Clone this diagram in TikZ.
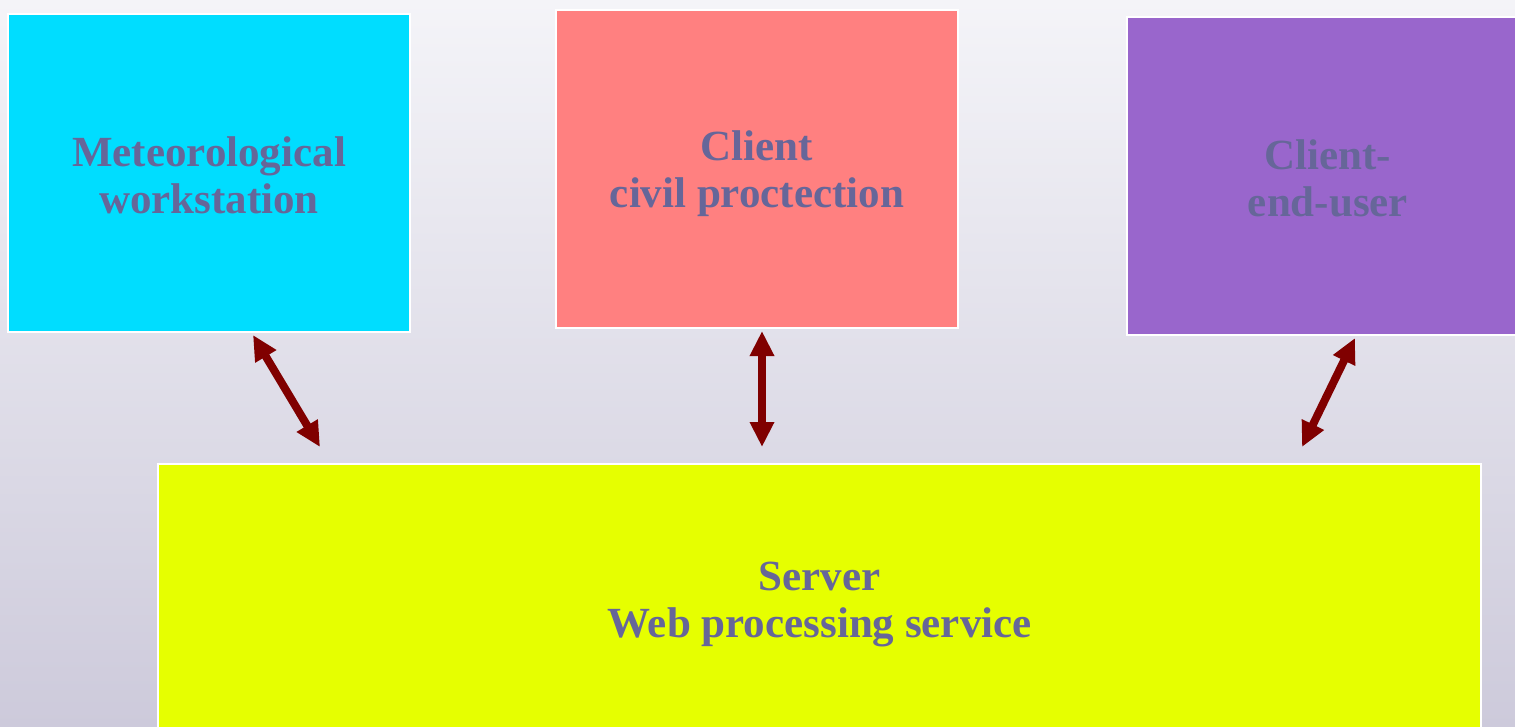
\documentclass[tikz,border=0pt]{standalone}
\usepackage{fontspec}
\setmainfont{Liberation Serif}
\usetikzlibrary{arrows.meta}
\definecolor{bgtop}{HTML}{F4F4F8}
\definecolor{bgbottom}{HTML}{CDCADB}
\definecolor{meteocol}{HTML}{00DDFF}
\definecolor{civilcol}{HTML}{FF8080}
\definecolor{usercol}{HTML}{9966CC}
\definecolor{servercol}{HTML}{E6FF00}
\definecolor{labelcol}{HTML}{666699}
\definecolor{linkcol}{HTML}{800000}
\tikzset{
  block/.style={draw=white, line width=2pt, inner sep=0pt},
  caption/.style={align=center, text=labelcol, inner sep=0pt,
    font=\bfseries\fontsize{43}{47}\selectfont},
  clientbox/.style={block, minimum width=402pt, minimum height=318pt},
  link/.style={linkcol, line width=8pt,
    {Triangle[length=25pt,width=23pt]}-{Triangle[length=25pt,width=23pt]}}
}
\begin{document}
\begin{tikzpicture}[x=1pt,y=-1pt]
  \useasboundingbox (0,0) rectangle (1515,727);
  \clip (0,0) rectangle (1515,727);
  \shade[top color=bgtop, bottom color=bgbottom] (0,0) rectangle (1515,727);

  % client workstations along the top
  \node[clientbox, fill=meteocol,
    label={[caption, yshift=-2pt]center:Meteorological\\workstation}] (meteo) at (209,173) {};
  \node[clientbox, fill=civilcol,
    label={[caption, yshift=-5pt]center:Client\\civil proctection}] (civil) at (757,169) {};
  \node[clientbox, fill=usercol,
    label={[caption, yshift=-2pt]center:Client-\\end-user}] (enduser) at (1328,176) {};

  % processing server at the bottom
  \node[block, fill=servercol, minimum width=1323pt, minimum height=272pt,
    label={[caption, yshift=-5pt]center:Server\\Web processing service}]
    (server) at (819.5,600) {};

  % two-way links between clients and server
  \draw[link] ([xshift=44pt,yshift=-2pt]meteo.south) -- ([xshift=-499.5pt,yshift=16pt]server.north);
  \draw[link] ([xshift=5pt,yshift=-2pt]civil.south) -- ([xshift=-57.5pt,yshift=16pt]server.north);
  \draw[link] ([xshift=27pt,yshift=-2pt]enduser.south) -- ([xshift=482.5pt,yshift=16pt]server.north);
\end{tikzpicture}
\end{document}
